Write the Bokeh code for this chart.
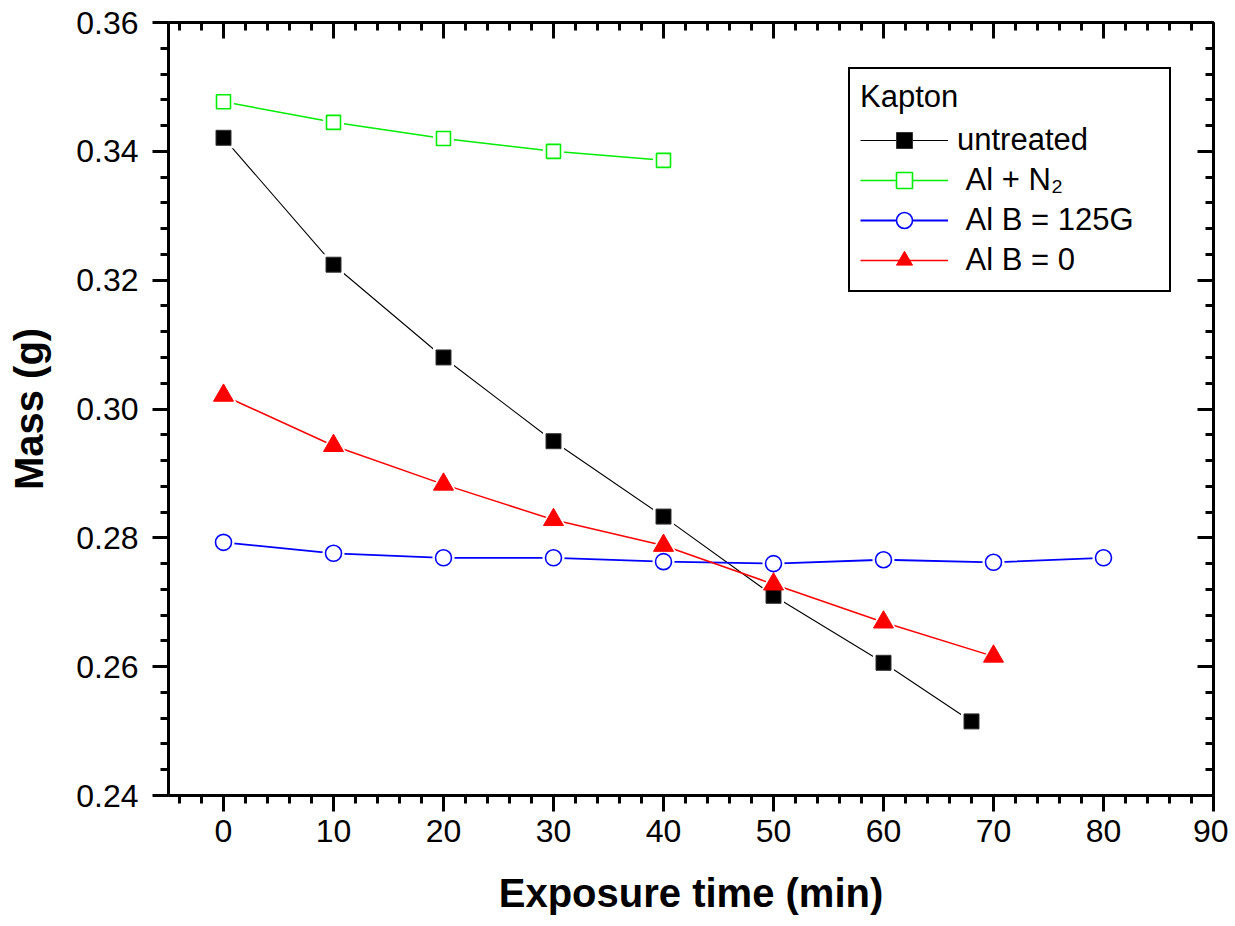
from bokeh.plotting import figure
from bokeh.models import (Range1d, LinearAxis, SingleIntervalTicker, PrintfTickFormatter,
                          Legend, LegendItem)
from bokeh.embed import file_html
from bokeh.resources import INLINE

# ---- data ----
time_untreated = [0, 10, 20, 30, 40, 50, 60, 68]
mass_untreated = [0.3421, 0.3224, 0.3080, 0.2950, 0.2833, 0.2710, 0.2606, 0.2515]

time_aln2 = [0, 10, 20, 30, 40]
mass_aln2 = [0.3477, 0.3445, 0.3420, 0.3400, 0.3386]

time_b125 = [0, 10, 20, 30, 40, 50, 60, 70, 80]
mass_b125 = [0.2793, 0.2776, 0.2769, 0.2769, 0.2763, 0.2760, 0.2766, 0.2762, 0.2769]

time_b0 = [0, 10, 20, 30, 40, 50, 60, 70]
mass_b0 = [0.3021, 0.2943, 0.2883, 0.2828, 0.2788, 0.2728, 0.2669, 0.2616]

labels = ["untreated", "\u00a0Al + N\u2082", "\u00a0Al B = 125G", "\u00a0Al B = 0"]
legend_title = "Kapton"
x_label = "Exposure time (min)"
y_label = "Mass (g)"

FONT = "Liberation Sans"

p = figure(frame_width=1045, frame_height=773,
           x_range=Range1d(-5, 90), y_range=Range1d(0.24, 0.36),
           output_backend="svg", toolbar_location=None,
           min_border_left=168, min_border_top=22, min_border_right=15,
           min_border_bottom=4, background_fill_color="white",
           border_fill_color="white")
p.grid.visible = False
p.outline_line_color = None


def style(ax, inward):
    ax.axis_line_width = 3
    ax.axis_line_color = "black"
    ax.major_tick_line_width = 3
    ax.minor_tick_line_width = 3
    ax.major_tick_line_color = "black"
    ax.minor_tick_line_color = "black"
    if inward:
        ax.major_tick_in, ax.major_tick_out = 16, 0
        ax.minor_tick_in, ax.minor_tick_out = 8, 0
    else:
        ax.major_tick_in, ax.major_tick_out = 0, 16
        ax.minor_tick_in, ax.minor_tick_out = 0, 8
    ax.major_label_text_font = FONT
    ax.major_label_text_font_size = "32px"
    ax.major_label_text_color = "black"
    ax.axis_label_text_font = FONT
    ax.axis_label_text_font_size = "40px"
    ax.axis_label_text_font_style = "bold"
    ax.axis_label_text_color = "black"


xa = p.xaxis[0]
xa.ticker = SingleIntervalTicker(interval=10, num_minor_ticks=5)
xa.axis_label = x_label
style(xa, False)
xa.major_label_standoff = 8
xa.axis_label_standoff = 26

ya = p.yaxis[0]
ya.ticker = SingleIntervalTicker(interval=0.02, num_minor_ticks=5)
ya.formatter = PrintfTickFormatter(format="%.2f")
ya.axis_label = y_label
style(ya, False)
ya.major_label_standoff = 14
ya.axis_label_standoff = 22

top = LinearAxis(ticker=SingleIntervalTicker(interval=10, num_minor_ticks=5))
style(top, True)
top.major_label_text_font_size = "0px"
top.major_label_text_color = None
top.major_label_standoff = 0
p.add_layout(top, "above")

right = LinearAxis(ticker=SingleIntervalTicker(interval=0.02, num_minor_ticks=5))
style(right, True)
right.major_label_text_font_size = "0px"
right.major_label_text_color = None
right.major_label_standoff = 0
p.add_layout(right, "right")

# ---- series ----
l1 = p.line(time_untreated, mass_untreated, line_color="black", line_width=1.1)
l2 = p.line(time_aln2, mass_aln2, line_color="#00ee00", line_width=1.5)
l3 = p.line(time_b125, mass_b125, line_color="#0000ff", line_width=1.8)
l4 = p.line(time_b0, mass_b0, line_color="#ff0000", line_width=1.5)

# white halos give the small gap between lines and symbols
p.scatter(time_untreated, mass_untreated, marker="square", size=21, fill_color="white", line_color=None)
p.scatter(time_aln2, mass_aln2, marker="square", size=21, fill_color="white", line_color=None)
p.scatter(time_b125, mass_b125, marker="circle", size=22, fill_color="white", line_color=None)
p.scatter(time_b0, mass_b0, marker="triangle", size=27, fill_color="white", line_color=None)

m1 = p.scatter(time_untreated, mass_untreated, marker="square", size=15,
               fill_color="black", line_color="#333333", line_width=1)
m2 = p.scatter(time_aln2, mass_aln2, marker="square", size=14,
               fill_color="white", line_color="#00ee00", line_width=1.6)
m3 = p.scatter(time_b125, mass_b125, marker="circle", size=16,
               fill_color="white", line_color="#0000ff", line_width=1.6)
m4 = p.scatter(time_b0, mass_b0, marker="triangle", size=20,
               fill_color="#ff0000", line_color="#ff0000", line_width=1)

legend = Legend(items=[LegendItem(label=labels[0], renderers=[l1, m1]),
                       LegendItem(label=labels[1], renderers=[l2, m2]),
                       LegendItem(label=labels[2], renderers=[l3, m3]),
                       LegendItem(label=labels[3], renderers=[l4, m4])],
                location=(680, 503), title=legend_title,
                title_text_font=FONT, title_text_font_size="31px",
                title_text_font_style="normal", title_text_color="black",
                title_standoff=5,
                label_text_font=FONT, label_text_font_size="31px",
                label_text_color="black",
                glyph_width=88, glyph_height=40, label_standoff=9,
                label_width=202, padding=10, spacing=0, margin=0,
                border_line_color="black", border_line_width=2,
                border_line_alpha=1,
                background_fill_color="white", background_fill_alpha=1)
p.add_layout(legend)

open("out.html", "w").write(file_html(p, INLINE))
